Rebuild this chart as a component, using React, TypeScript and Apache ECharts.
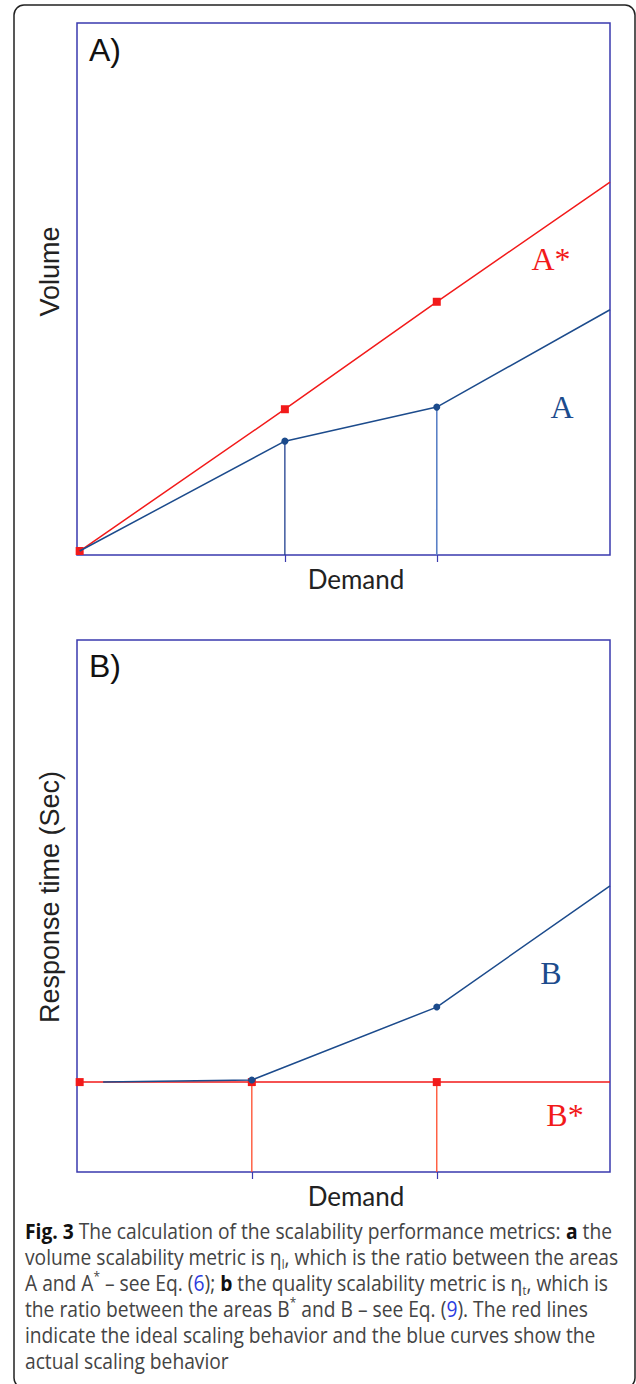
import React, { useEffect, useRef } from "react";
import * as echarts from "echarts";

// ---- data (demand in relative units 0..100, values in relative units 0..100)
const volumeDemand = [0.5, 39, 67.5, 100];
const idealVolume = [0.75, 27.4, 47.6, 70.1];
const actualVolume = [0.75, 21.4, 27.8, 46.1];
const volumeTicks = [39, 67.5];

const responseDemand = [0.5, 32.8, 67.5, 100];
const idealResponse = [16.9, 16.9, 16.9, 16.9];
const actualResponseDemand = [4.9, 32.8, 67.5, 100];
const actualResponse = [16.9, 17.3, 31.0, 53.8];
const responseTicks = [32.8, 67.5];

const captionLines = [
  "{b|Fig. 3} The calculation of the scalability performance metrics: {b|a} the",
  "volume scalability metric is η{sub|l}, which is the ratio between the areas",
  "A and A{sup|*} – see Eq. ({link|6}); {b|b} the quality scalability metric is η{sub|t}, which is",
  "the ratio between the areas B{sup|*} and B – see Eq. ({link|9}). The red lines",
  "indicate the ideal scaling behavior and the blue curves show the",
  "actual scaling behavior",
];

const RED = "#f21a1a";
const BLUE = "#1c4b8c";
const FRAME = "#3a3aae";
const CAP_SIZE = 21;

function pts(xs: number[], ys: number[], lastNoSymbol: boolean, firstNoSymbol = false) {
  return xs.map((x, i) => {
    const item: any = { value: [x, ys[i]] };
    if ((lastNoSymbol && i === xs.length - 1) || (firstNoSymbol && i === 0)) item.symbol = "none";
    return item;
  });
}

function measureCaptionScale(): number {
  try {
    const c = document.createElement("canvas").getContext("2d")!;
    c.font = CAP_SIZE + 'px "Open Sans"';
    const n = c.measureText(" The calculation of the scalability performance metrics:  the").width;
    c.font = "bold " + CAP_SIZE + 'px "Open Sans"';
    const b = c.measureText("Fig. 3a").width;
    const w = n + b;
    if (w > 0) return 587 / w;
  } catch (e) {}
  return 0.85;
}

export default function App() {
  const ref = useRef<HTMLDivElement>(null);
  useEffect(() => {
    const chart = echarts.init(ref.current!, null, { renderer: "svg" });
    const sx = measureCaptionScale();
    const axisCommon = {
      axisLine: { show: false },
      splitLine: { show: false },
      axisLabel: { show: false },
    };
    const xName = {
      nameLocation: "middle",
      nameGap: 11,
      nameTextStyle: { fontFamily: "Lato", fontSize: 26, color: "#222", padding: [0, 0, 0, 25] },
    };
    const option: any = {
      animation: false,
      backgroundColor: "#ffffff",
      grid: [
        { left: 77, top: 23, width: 533, height: 532, show: true, borderColor: FRAME, borderWidth: 1.5, backgroundColor: "transparent" },
        { left: 77, top: 640, width: 533, height: 532, show: true, borderColor: FRAME, borderWidth: 1.5, backgroundColor: "transparent" },
      ],
      xAxis: [
        {
          type: "value", gridIndex: 0, min: 0, max: 100, name: "Demand", ...xName, ...axisCommon,
          axisTick: { show: true, customValues: volumeTicks, length: 7, lineStyle: { color: FRAME, width: 1.2 } },
        },
        {
          type: "value", gridIndex: 1, min: 0, max: 100, name: "Demand", ...xName, ...axisCommon,
          axisTick: { show: true, customValues: responseTicks, length: 7, lineStyle: { color: FRAME, width: 1.2 } },
        },
      ],
      yAxis: [
        {
          type: "value", gridIndex: 0, min: 0, max: 100, name: "Volume", nameLocation: "middle", nameGap: 14,
          nameTextStyle: { fontFamily: "Liberation Sans", fontSize: 27, color: "#222", padding: [0, 0, 0, 35] },
          axisTick: { show: false }, ...axisCommon,
        },
        {
          type: "value", gridIndex: 1, min: 0, max: 100, name: "Response time (Sec)", nameLocation: "middle", nameGap: 14,
          nameTextStyle: { fontFamily: "Liberation Sans", fontSize: 27, color: "#222", padding: [0, 0, 0, 18] },
          axisTick: { show: false }, ...axisCommon,
        },
      ],
      series: [
        // panel A verticals
        {
          type: "line", xAxisIndex: 0, yAxisIndex: 0, symbol: "none",
          data: [[volumeTicks[0], actualVolume[1]], [volumeTicks[0], 0]],
          lineStyle: { color: "#1f3f8f", width: 1.3 }, z: 2,
        },
        {
          type: "line", xAxisIndex: 0, yAxisIndex: 0, symbol: "none",
          data: [[volumeTicks[1], actualVolume[2]], [volumeTicks[1], 0]],
          lineStyle: { color: "#5a80c6", width: 1.6 }, z: 2,
        },
        {
          type: "line", name: "A*", xAxisIndex: 0, yAxisIndex: 0, symbol: "rect", symbolSize: 8,
          data: pts(volumeDemand, idealVolume, true),
          lineStyle: { color: RED, width: 1.5 }, itemStyle: { color: RED }, z: 3,
        },
        {
          type: "line", name: "A", xAxisIndex: 0, yAxisIndex: 0, symbol: "circle", symbolSize: 7,
          data: pts(volumeDemand, actualVolume, true, true),
          lineStyle: { color: BLUE, width: 1.5 }, itemStyle: { color: BLUE }, z: 4,
        },
        // panel B verticals
        {
          type: "line", xAxisIndex: 1, yAxisIndex: 1, symbol: "none",
          data: [[responseTicks[0], idealResponse[1]], [responseTicks[0], 0]],
          lineStyle: { color: "#ff4a2a", width: 1.3 }, z: 2,
        },
        {
          type: "line", xAxisIndex: 1, yAxisIndex: 1, symbol: "none",
          data: [[responseTicks[1], idealResponse[2]], [responseTicks[1], 0]],
          lineStyle: { color: "#ff4a2a", width: 1.3 }, z: 2,
        },
        {
          type: "line", name: "B*", xAxisIndex: 1, yAxisIndex: 1, symbol: "rect", symbolSize: 8,
          data: pts(responseDemand, idealResponse, true),
          lineStyle: { color: RED, width: 1.5 }, itemStyle: { color: RED }, z: 3,
        },
        {
          type: "line", name: "B", xAxisIndex: 1, yAxisIndex: 1, symbol: "circle", symbolSize: 7,
          data: pts(actualResponseDemand, actualResponse, true, true),
          lineStyle: { color: BLUE, width: 1.5 }, itemStyle: { color: BLUE }, z: 4,
        },
      ],
      graphic: [
        {
          type: "rect", silent: true,
          shape: { x: 14, y: 5, width: 621, height: 1383, r: 10 },
          style: { fill: "none", stroke: "#222", lineWidth: 1.5 },
        },
        { type: "text", x: 89, y: 50, style: { text: "A)", font: '32px "Liberation Sans"', fill: "#111", verticalAlign: "middle" } },
        { type: "text", x: 89, y: 666, style: { text: "B)", font: '32px "Liberation Sans"', fill: "#111", verticalAlign: "middle" } },
        { type: "text", x: 551, y: 259, style: { text: "A*", font: '32px "Liberation Serif"', fill: RED, align: "center", verticalAlign: "middle" } },
        { type: "text", x: 562, y: 407, style: { text: "A", font: '32px "Liberation Serif"', fill: BLUE, align: "center", verticalAlign: "middle" } },
        { type: "text", x: 551, y: 973, style: { text: "B", font: '32px "Liberation Serif"', fill: BLUE, align: "center", verticalAlign: "middle" } },
        { type: "text", x: 565, y: 1115, style: { text: "B*", font: '32px "Liberation Serif"', fill: RED, align: "center", verticalAlign: "middle" } },
        {
          type: "text", x: 25, y: 1218, scaleX: sx,
          style: {
            text: captionLines.join("\n"),
            fontFamily: "Open Sans", fontSize: CAP_SIZE, fill: "#444", lineHeight: 26, verticalAlign: "top",
            rich: {
              b: { fontFamily: "Open Sans", fontSize: CAP_SIZE, fontWeight: "bold", fill: "#111", lineHeight: 26 },
              sub: { fontFamily: "Open Sans", fontSize: 12, fill: "#444", verticalAlign: "bottom", lineHeight: 11 },
              sup: { fontFamily: "Open Sans", fontSize: 13, fill: "#444", verticalAlign: "top", lineHeight: 12 },
              link: { fontFamily: "Open Sans", fontSize: CAP_SIZE, fill: "#2b3be0", lineHeight: 26 },
            },
          },
        },
      ],
    };
    chart.setOption(option);
    return () => chart.dispose();
  }, []);
  return (
    <div
      ref={ref}
      style={{ position: "absolute", left: 0, top: 0, width: 636, height: 1384, background: "#fff" }}
    />
  );
}
